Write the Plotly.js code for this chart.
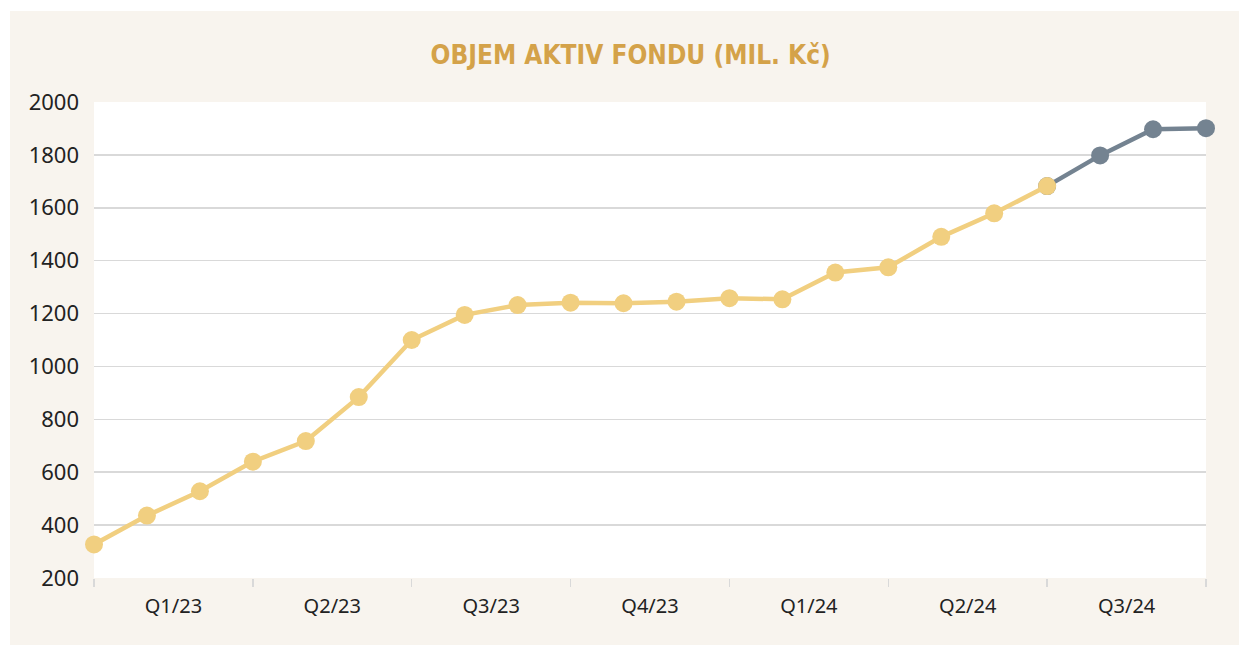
<!DOCTYPE html>
<html>
<head>
<meta charset="utf-8">
<script src="https://cdn.plot.ly/plotly-3.0.1.min.js"></script>
<style>
  html, body { margin: 0; padding: 0; background: #ffffff; width: 1239px; height: 646px; overflow: hidden; }
  #chart { position: absolute; left: 10px; top: 11px; width: 1229px; height: 634px; }
</style>
</head>
<body>
<div id="chart"></div>
<script>
// Month-end values (Dec 2022 – Sep 2024), mil. Kč
const months = ['12/22','01/23','02/23','03/23','04/23','05/23','06/23','07/23','08/23','09/23','10/23','11/23','12/23',
                '01/24','02/24','03/24','04/24','05/24','06/24','07/24','08/24','09/24'];
const values = [327, 436, 528, 640, 718, 884, 1100, 1195, 1232, 1241, 1239, 1245, 1258,
                 1254, 1355, 1375, 1490, 1579, 1682, 1798, 1897, 1901];
const quarterLabels = ['Q1/23','Q2/23','Q3/23','Q4/23','Q1/24','Q2/24','Q3/24'];
const actualCount = 19;   // first 19 points in gold, the rest in grey
const titleText = 'OBJEM AKTIV FONDU (MIL. Kč)';

const idx = months.map((_, i) => i);
const boundaryVals = quarterLabels.map((_, q) => q * 3).concat([quarterLabels.length * 3]);
const labelVals = quarterLabels.map((_, q) => q * 3 + 1.5);

const gold = '#f1cf80';
const grey = '#748391';

const traces = [
  {
    x: idx.slice(actualCount - 1),
    y: values.slice(actualCount - 1),
    text: months.slice(actualCount - 1),
    mode: 'lines+markers',
    line: { color: grey, width: 4.5 },
    marker: { color: grey, size: 18 },
    cliponaxis: false,
    hoverinfo: 'text+y'
  },
  {
    x: idx.slice(0, actualCount),
    y: values.slice(0, actualCount),
    text: months.slice(0, actualCount),
    mode: 'lines+markers',
    line: { color: gold, width: 4.5 },
    marker: { color: gold, size: 18 },
    cliponaxis: false,
    hoverinfo: 'text+y'
  }
];

const layout = {
  width: 1229,
  height: 634,
  paper_bgcolor: '#f8f4ee',
  plot_bgcolor: '#ffffff',
  showlegend: false,
  margin: { l: 84, r: 33, t: 91, b: 67 },
  title: {
    text: titleText,
    font: { family: 'DejaVu Sans Condensed, DejaVu Sans, sans-serif', size: 26, color: '#d4a249', weight: 'bold' },
    xref: 'container', x: 0.505, xanchor: 'center',
    yref: 'container', y: 0.93, yanchor: 'middle'
  },
  xaxis: {
    range: [0, months.length - 1],
    tickmode: 'array',
    tickvals: labelVals,
    ticktext: quarterLabels,
    ticks: '',
    showgrid: false,
    zeroline: false,
    showline: false,
    tickfont: { family: 'Noto Sans, sans-serif', size: 20, color: '#222222' },
    ticklabelstandoff: 14,
    minor: {
      tickmode: 'array',
      tickvals: boundaryVals,
      ticks: 'outside',
      ticklen: 8,
      tickwidth: 1.5,
      tickcolor: '#d9d9d9',
      showgrid: false
    }
  },
  yaxis: {
    range: [200, 2000],
    tickmode: 'array',
    tickvals: [200, 400, 600, 800, 1000, 1200, 1400, 1600, 1800, 2000],
    ticks: '',
    showgrid: true,
    gridcolor: '#d9d9d9',
    gridwidth: 1.5,
    zeroline: false,
    showline: false,
    tickfont: { family: 'Noto Sans, sans-serif', size: 22, color: '#222222' },
    ticklabelstandoff: 14
  }
};

Plotly.newPlot('chart', traces, layout, { displayModeBar: false, staticPlot: true });
</script>
</body>
</html>
